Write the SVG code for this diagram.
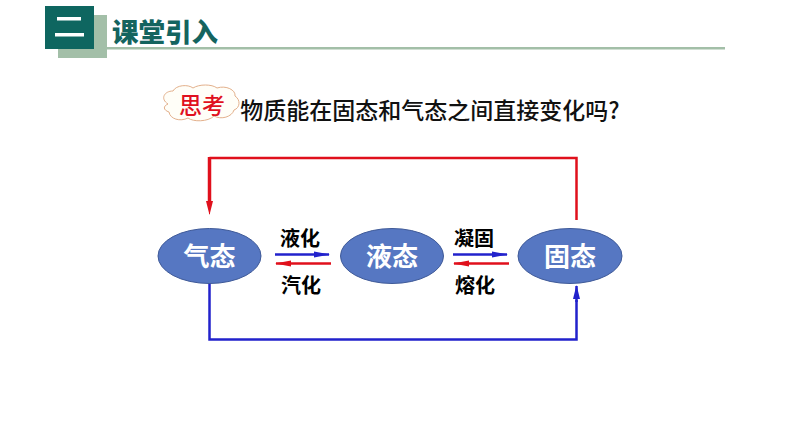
<svg xmlns="http://www.w3.org/2000/svg" width="794" height="447" viewBox="0 0 794 447">
<style>
text{font-family:"Noto Sans CJK SC","Liberation Sans",sans-serif;text-anchor:middle}
.st{fill:#fff;font-size:26px;font-weight:700}
.lb{fill:#000;font-size:20px;font-weight:700}
.el{fill:#5677c2;stroke:#3f5a98;stroke-width:1}
.r{fill:none;stroke:#e0101c}
.b{fill:none;stroke:#2222cc}
</style>
<defs>
<marker id="ar" markerUnits="userSpaceOnUse" markerWidth="14" markerHeight="10" refX="13" refY="5" orient="auto"><path d="M0 1.500L14 5L0 8.500Z" fill="#e0101c"/></marker>
<marker id="ab" markerUnits="userSpaceOnUse" markerWidth="14" markerHeight="10" refX="13" refY="5" orient="auto"><path d="M0 1.500L14 5L0 8.500Z" fill="#2222cc"/></marker>
<marker id="arl" markerUnits="userSpaceOnUse" markerWidth="16" markerHeight="10" refX="15" refY="5" orient="auto"><path d="M0 2L16 5L0 8Z" fill="#e0101c"/></marker>
<marker id="abl" markerUnits="userSpaceOnUse" markerWidth="16" markerHeight="10" refX="15" refY="5" orient="auto"><path d="M0 2L16 5L0 8Z" fill="#2222cc"/></marker>
</defs>
<rect width="794" height="447" fill="#fff"/>
<g id="header">
<rect x="58" y="15" width="49" height="43" fill="#a3bfa8"/>
<rect x="107" y="47" width="618" height="2.500" fill="#a3bfa8"/>
<rect x="45" y="6" width="49" height="43" fill="#0e6660"/>
<rect x="57" y="17" width="24" height="3.500" fill="#fff"/>
<rect x="55" y="33" width="29" height="3.500" fill="#fff"/>
<text x="165" y="42" fill="#14645f" style="font-size:26.500px;font-weight:900">课堂引入</text>
</g>
<g id="think">
<path d="M168 104C160 99 164 91 173 91C176 85 188 84 193 88C199 84 212 84 217 88C226 85 236 90 235 96C241 100 240 108 234 110C232 117 221 120 214 116C208 122 193 122 188 118C180 122 170 119 169 112C163 110 163 106 168 104Z" fill="#fffef8" stroke="#e3b08c" stroke-width="1"/>
<text x="202" y="114" fill="#e01020" style="font-size:23px;font-weight:500">思考</text>
</g>
<text id="question" x="430" y="119" fill="#111" style="font-size:23px;font-weight:500">物质能在固态和气态之间直接变化吗?</text>
<g id="connectors">
<path class="r" stroke-width="2.500" d="M576.500 220V158H209.500"/>
<path class="r" stroke-width="3.500" d="M209.500 157V205"/>
<path class="r" stroke-width="1" d="M209.500 200V214" marker-end="url(#ar)"/>
<path class="b" stroke-width="2.500" d="M209.500 283V339.500H576.500V300"/>
<path class="b" stroke-width="2.500" d="M576.500 302V286" marker-end="url(#ab)"/>
<path class="b" stroke-width="2.500" d="M275 254.500H329" marker-end="url(#abl)"/>
<path class="r" stroke-width="2.500" d="M331 263.500H276" marker-end="url(#arl)"/>
<path class="b" stroke-width="2.500" d="M453 254.500H507" marker-end="url(#abl)"/>
<path class="r" stroke-width="2.500" d="M509 263.500H454" marker-end="url(#arl)"/>
</g>
<g id="gas"><ellipse class="el" cx="209.500" cy="256" rx="51.500" ry="27.500"/><text class="st" x="209.500" y="266">气态</text></g>
<g id="liquid"><ellipse class="el" cx="392" cy="256" rx="51.500" ry="27.500"/><text class="st" x="392" y="266">液态</text></g>
<g id="solid"><ellipse class="el" cx="570" cy="256" rx="52" ry="27.500"/><text class="st" x="570" y="266">固态</text></g>
<g id="labels">
<text class="lb" x="300" y="246">液化</text>
<text class="lb" x="301" y="293">汽化</text>
<text class="lb" x="474" y="246">凝固</text>
<text class="lb" x="475" y="293">熔化</text>
</g>
</svg>
